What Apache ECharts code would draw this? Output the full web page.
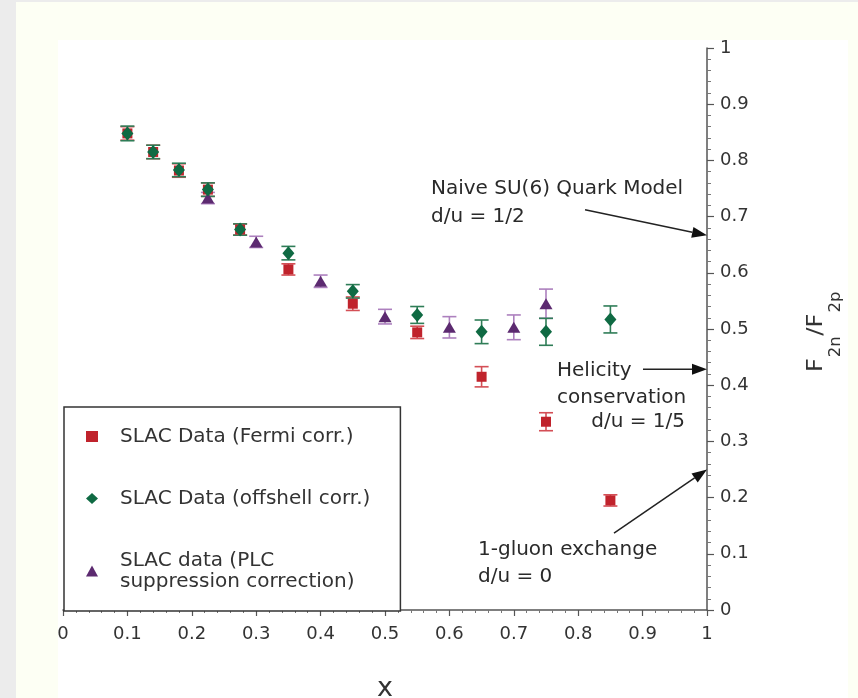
<!DOCTYPE html>
<html>
<head>
<meta charset="utf-8">
<title>F2n/F2p vs x</title>
<script src="https://cdn.jsdelivr.net/npm/echarts@6/dist/echarts.min.js"></script>
<style>
  html, body { margin: 0; padding: 0; background: #ececec; }
  #chart { width: 858px; height: 698px; }
</style>
</head>
<body>
<div id="chart"></div>
<script>
// ---- data ----
const xFermi = [0.1, 0.14, 0.18, 0.225, 0.275, 0.35, 0.45, 0.55, 0.65, 0.75, 0.85];
const ratioFermi = [0.848, 0.815, 0.782, 0.748, 0.677, 0.606, 0.545, 0.494, 0.415, 0.335, 0.195];
const errFermi = [0.012, 0.012, 0.012, 0.012, 0.010, 0.010, 0.012, 0.011, 0.018, 0.016, 0.010];

const xOffshell = [0.1, 0.14, 0.18, 0.225, 0.275, 0.35, 0.45, 0.55, 0.65, 0.75, 0.85];
const ratioOffshell = [0.848, 0.815, 0.783, 0.748, 0.677, 0.635, 0.567, 0.525, 0.495, 0.495, 0.517];
const errOffshell = [0.013, 0.012, 0.012, 0.012, 0.010, 0.012, 0.012, 0.015, 0.021, 0.024, 0.024];

const xPLC = [0.225, 0.3, 0.4, 0.5, 0.6, 0.7, 0.75];
const ratioPLC = [0.733, 0.655, 0.585, 0.522, 0.503, 0.503, 0.545];
const errPLC = [0.010, 0.010, 0.011, 0.013, 0.019, 0.022, 0.026];

const seriesNames = ['SLAC Data (Fermi corr.)', 'SLAC Data (offshell corr.)', 'SLAC data (PLC\nsuppression correction)'];

// model predictions at x -> 1 (arrow start [x, y], arrow tip [x, y])
const arrowStarts = [[0.8106, 0.712], [0.9006, 3 / 7], [0.8556, 0.137]];
const arrowTips = [[1, 2 / 3], [1, 3 / 7], [1, 0.25]];

const FONT = '"DejaVu Sans", "Liberation Sans", sans-serif';

const pairs = (xs, ys) => xs.map((x, i) => [x, ys[i]]);
const triples = (xs, ys, es) => xs.map((x, i) => [x, ys[i], es[i]]);

function errorBars(color) {
  return function (params, api) {
    const x = api.value(0), y = api.value(1), e = api.value(2);
    const top = api.coord([x, y + e]);
    const bot = api.coord([x, y - e]);
    const hw = 7;
    const st = { stroke: color, lineWidth: 1.6 };
    return {
      type: 'group',
      children: [
        { type: 'line', shape: { x1: top[0], y1: top[1], x2: bot[0], y2: bot[1] }, style: st },
        { type: 'line', shape: { x1: top[0] - hw, y1: top[1], x2: top[0] + hw, y2: top[1] }, style: st },
        { type: 'line', shape: { x1: bot[0] - hw, y1: bot[1], x2: bot[0] + hw, y2: bot[1] }, style: st }
      ]
    };
  };
}

function arrowItem(params, api) {
  const p1 = api.coord([api.value(0), api.value(1)]);
  const p2 = api.coord([api.value(2), api.value(3)]);
  const dx = p2[0] - p1[0], dy = p2[1] - p1[1];
  const len = Math.sqrt(dx * dx + dy * dy);
  const ux = dx / len, uy = dy / len;
  const hl = 15, hw = 5.5;
  const bx = p2[0] - ux * hl, by = p2[1] - uy * hl;
  return {
    type: 'group',
    children: [
      { type: 'line', shape: { x1: p1[0], y1: p1[1], x2: bx, y2: by }, style: { stroke: '#222', lineWidth: 1.5 } },
      { type: 'polygon', shape: { points: [[p2[0], p2[1]], [bx - uy * hw, by + ux * hw], [bx + uy * hw, by - ux * hw]] }, style: { fill: '#111' } }
    ]
  };
}

const chart = echarts.init(document.getElementById('chart'), null, { renderer: 'canvas' });

const textStyleBase = { fontFamily: FONT, fontSize: 20, fill: '#2a2a2a' };

const option = {
  animation: false,
  backgroundColor: 'transparent',
  grid: { left: 63, right: 151, top: 48, bottom: 88, containLabel: false, outerBoundsMode: 'none' },
  xAxis: {
    type: 'value', min: 0, max: 1, interval: 0.1,
    name: 'x', nameLocation: 'middle', nameGap: 65,
    nameTextStyle: { fontFamily: FONT, fontSize: 27, color: '#333' },
    axisLine: { show: true, lineStyle: { color: '#555', width: 1.5 } },
    axisTick: { show: true, inside: false, length: 6, lineStyle: { color: '#555', width: 1.2 } },
    minorTick: { show: true, splitNumber: 5, length: 3, lineStyle: { color: '#777', width: 1 } },
    splitLine: { show: false },
    axisLabel: { fontFamily: FONT, fontSize: 18, color: '#333', margin: 15 }
  },
  yAxis: {
    type: 'value', min: 0, max: 1, interval: 0.1, position: 'right',
    axisLine: { show: true, onZero: false, lineStyle: { color: '#555', width: 1.5 } },
    axisTick: { show: true, inside: false, length: 7, lineStyle: { color: '#555', width: 1.2 } },
    minorTick: { show: true, splitNumber: 5, length: 4, lineStyle: { color: '#777', width: 1 } },
    splitLine: { show: false },
    axisLabel: { fontFamily: FONT, fontSize: 18, color: '#333', margin: 13 }
  },
  legend: {
    orient: 'vertical', left: 64, top: 407,
    padding: [19, 30, 19, 22],
    itemGap: 41, itemWidth: 12, itemHeight: 11,
    borderColor: '#333', borderWidth: 1.5, borderRadius: 0,
    backgroundColor: '#fff',
    data: seriesNames,
    textStyle: { fontFamily: FONT, fontSize: 20, color: '#333', lineHeight: 21, padding: [0, 0, 0, 17] }
  },
  graphic: [
    { type: 'rect', z: -100, silent: true, shape: { x: 16, y: 2, width: 842, height: 696 }, style: { fill: '#fdfff4' } },
    { type: 'rect', z: -99, silent: true, shape: { x: 58, y: 40, width: 790, height: 658 }, style: { fill: '#ffffff' } },
    // annotation texts
    { type: 'text', x: 431, y: 175, style: Object.assign({}, textStyleBase, { text: 'Naive SU(6) Quark Model\nd/u = 1/2', lineHeight: 28, verticalAlign: 'top' }) },
    { type: 'text', x: 557, y: 357, style: Object.assign({}, textStyleBase, { text: 'Helicity\nconservation', lineHeight: 27, verticalAlign: 'top' }) },
    { type: 'text', x: 685, y: 412, style: Object.assign({}, textStyleBase, { text: 'd/u = 1/5', align: 'right', verticalAlign: 'top' }) },
    { type: 'text', x: 478, y: 536, style: Object.assign({}, textStyleBase, { text: '1-gluon exchange\nd/u = 0', lineHeight: 27, verticalAlign: 'top' }) },
    // y-axis title F2n/F2p, read bottom to top
    {
      type: 'group', x: 823, y: 372, rotation: Math.PI / 2, scaleX: 1.1, scaleY: 1,
      children: [
        { type: 'text', x: 0, y: -6.8, style: { text: 'F', fontFamily: FONT, fontSize: 22, fill: '#333', verticalAlign: 'middle' } },
        { type: 'text', x: 13.5, y: 13.3, style: { text: '2n', fontFamily: FONT, fontSize: 15, fill: '#333', verticalAlign: 'middle' } },
        { type: 'text', x: 33, y: -6.8, style: { text: '/F', fontFamily: FONT, fontSize: 22, fill: '#333', verticalAlign: 'middle' } },
        { type: 'text', x: 54, y: 13.3, style: { text: '2p', fontFamily: FONT, fontSize: 15, fill: '#333', verticalAlign: 'middle' } }
      ]
    }
  ],
  series: [
    { type: 'custom', name: 'fermi-err', renderItem: errorBars('#d44f56'), data: triples(xFermi, ratioFermi, errFermi), encode: { x: 0, y: 1 }, clip: false, silent: true },
    { type: 'scatter', name: seriesNames[0], symbol: 'rect', symbolSize: 10, itemStyle: { color: '#c0232c', opacity: 1 }, data: pairs(xFermi, ratioFermi) },
    { type: 'custom', name: 'plc-err', renderItem: errorBars('#ad80be'), data: triples(xPLC, ratioPLC, errPLC), encode: { x: 0, y: 1 }, clip: false, silent: true },
    { type: 'scatter', name: seriesNames[2], symbol: 'triangle', symbolSize: [13, 11], itemStyle: { color: '#5c2a70', opacity: 1 }, data: pairs(xPLC, ratioPLC) },
    { type: 'custom', name: 'offshell-err', renderItem: errorBars('#2f7d57'), data: triples(xOffshell, ratioOffshell, errOffshell), encode: { x: 0, y: 1 }, clip: false, silent: true },
    { type: 'scatter', name: seriesNames[1], symbol: 'diamond', symbolSize: [12, 14], itemStyle: { color: '#0f6a43', opacity: 1 }, data: pairs(xOffshell, ratioOffshell) },
    {
      type: 'custom', name: 'predictions', renderItem: arrowItem, clip: false, silent: true,
      encode: { x: [0, 2], y: [1, 3] },
      data: arrowStarts.map((s, i) => [s[0], s[1], arrowTips[i][0], arrowTips[i][1]])
    }
  ]
};

chart.setOption(option);
</script>
</body>
</html>
